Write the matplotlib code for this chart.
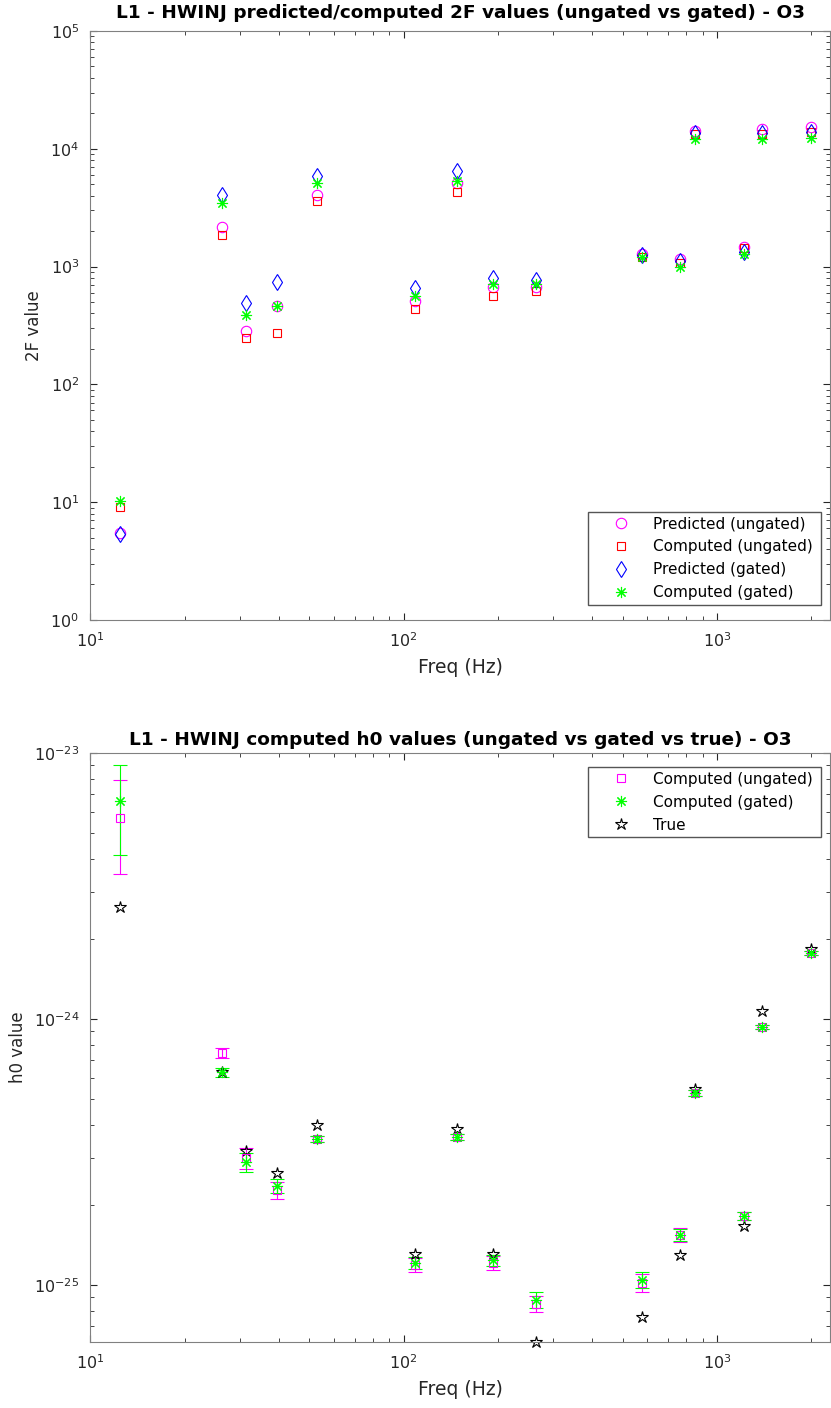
import numpy as np
import matplotlib
matplotlib.use('Agg')
import matplotlib.pyplot as plt
from matplotlib.ticker import NullFormatter

# frecuencias de las inyecciones (Hz)
freq = [12.4, 26.3, 31.4, 39.5, 52.8, 108.9, 148.0, 193.0, 265.6,
        575.2, 763.8, 849.1, 1220.5, 1396.0, 1991.0]

# 2F predicho / calculado
pred_ungated = [5.5, 2150, 285, 463, 4050, 510, 5130, 671, 675,
                1280, 1150, 14100, 1480, 14600, 15400]
comp_ungated = [9.1, 1855, 248, 273, 3600, 437, 4300, 563, 620,
                1200, 1075, 13300, 1450, 13300, 13900]
pred_gated = [5.4, 4050, 492, 740, 5900, 660, 6500, 800, 775,
              1260, 1110, 13600, 1340, 13500, 14000]
comp_gated = [10.2, 3470, 388, 463, 5130, 563, 5330, 715, 715,
              1200, 990, 12100, 1280, 12100, 12300]

# h0 calculado / verdadero
h0_ungated = [5.7e-24, 7.45e-25, 3.0e-25, 2.27e-25, 3.55e-25, 1.19e-25, 3.6e-25, 1.21e-25, 8.5e-26,
              1.02e-25, 1.54e-25, 5.27e-25, 1.82e-25, 9.33e-25, 1.77e-24]
h0_ungated_err = [2.2e-24, 3.0e-26, 2.7e-26, 1.6e-26, 0.9e-26, 0.7e-26, 0.9e-26, 0.7e-26, 0.6e-26,
                  0.8e-26, 0.9e-26, 1.4e-26, 0.6e-26, 1.6e-26, 3.0e-26]
h0_gated = [6.6e-24, 6.3e-25, 2.9e-25, 2.36e-25, 3.55e-25, 1.21e-25, 3.6e-25, 1.24e-25, 8.8e-26,
            1.045e-25, 1.54e-25, 5.27e-25, 1.82e-25, 9.33e-25, 1.77e-24]
h0_gated_err = [2.45e-24, 2.5e-26, 2.4e-26, 1.4e-26, 0.9e-26, 0.6e-26, 0.9e-26, 0.6e-26, 0.6e-26,
                0.7e-26, 0.8e-26, 1.4e-26, 0.6e-26, 1.6e-26, 3.0e-26]
h0_true = [2.64e-24, 6.3e-25, 3.19e-25, 2.64e-25, 4.0e-25, 1.31e-25, 3.85e-25, 1.31e-25, 6.1e-26,
           7.6e-26, 1.30e-25, 5.47e-25, 1.66e-25, 1.07e-24, 1.83e-24]

plt.rcParams['font.family'] = 'DejaVu Sans'
plt.rcParams['font.size'] = 11
plt.rcParams['mathtext.default'] = 'regular'

gris = '#262626'
asterisco = (8, 2, 0)
leg_kw = dict(mode='expand', borderaxespad=0, fancybox=False, edgecolor='#555555', framealpha=1,
              borderpad=0.3, handlelength=3.7, handletextpad=0.25, labelspacing=0.52, fontsize=11)

fig = plt.figure(figsize=(8.31, 14.08), dpi=100)
ax1 = fig.add_axes([0.1087, 0.5597, 0.8903, 0.4183])
ax2 = fig.add_axes([0.1087, 0.0469, 0.8903, 0.4183])

#grafico superior
ax1.plot(freq, pred_ungated, ls='none', marker='o', ms=7.5, mfc='none', mec=(1, 0, 1), mew=0.8,
         label='Predicted (ungated)')
ax1.plot(freq, comp_ungated, ls='none', marker='s', ms=5.5, mfc='none', mec=(1, 0, 0), mew=0.8,
         label='Computed (ungated)')
ax1.plot(freq, pred_gated, ls='none', marker='d', ms=8.5, mfc='none', mec=(0, 0, 1), mew=0.8,
         label='Predicted (gated)')
ax1.plot(freq, comp_gated, ls='none', marker=asterisco, ms=8, mfc='none', mec=(0, 1, 0), mew=0.8,
         label='Computed (gated)')
ax1.set_xscale('log')
ax1.set_yscale('log')
ax1.set_xlim(10, 2300)
ax1.set_ylim(1, 1e5)
ax1.set_xticks([10, 100, 1000])
ax1.set_yticks([1, 10, 100, 1e3, 1e4, 1e5])
ax1.set_xlabel('Freq (Hz)', fontsize=13.5, labelpad=6)
ax1.set_ylabel('2F value', fontsize=12, labelpad=5)
ax1.set_title('L1 - HWINJ predicted/computed 2F values (ungated vs gated) - O3',
              fontweight='bold', fontsize=13.3, pad=9)
ax1.legend(loc='lower left', bbox_to_anchor=(0.673, 0.0255, 0.315, 0.3), **leg_kw)

#grafico inferior
e1 = ax2.errorbar(freq, h0_ungated, yerr=h0_ungated_err, ls='none', marker='s', ms=5.5, mfc='none',
                  mec=(1, 0, 1), mew=0.8, ecolor=(1, 0, 1), elinewidth=0.8, capsize=5, capthick=0.8,
                  clip_on=False)
e2 = ax2.errorbar(freq, h0_gated, yerr=h0_gated_err, ls='none', marker=asterisco, ms=8, mfc='none',
                  mec=(0, 1, 0), mew=0.8, ecolor=(0, 1, 0), elinewidth=0.8, capsize=5, capthick=0.8,
                  clip_on=False)
t, = ax2.plot(freq, h0_true, ls='none', marker='*', ms=9, mfc='none', mec='black', mew=0.8,
              clip_on=False)
ax2.set_xscale('log')
ax2.set_yscale('log')
ax2.set_xlim(10, 2300)
ax2.set_ylim(6.1e-26, 1e-23)
ax2.set_xticks([10, 100, 1000])
ax2.set_yticks([1e-25, 1e-24, 1e-23])
ax2.set_xlabel('Freq (Hz)', fontsize=13.5, labelpad=6)
ax2.set_ylabel('h0 value', fontsize=12, labelpad=5)
ax2.set_title('L1 - HWINJ computed h0 values (ungated vs gated vs true) - O3',
              fontweight='bold', fontsize=13.3, pad=6)
ax2.legend([e1[0], e2[0], t], ['Computed (ungated)', 'Computed (gated)', 'True'],
           loc='upper left', bbox_to_anchor=(0.673, 0.5, 0.315, 0.476), **leg_kw)

for ax in (ax1, ax2):
    for s in ax.spines.values():
        s.set_color('#808080')
        s.set_linewidth(0.8)
    ax.tick_params(which='both', direction='in', top=True, right=True, colors=gris,
                   labelcolor=gris, labelsize=11.5)
    ax.tick_params(which='major', length=5, pad=8)
    ax.tick_params(which='minor', length=3)
    ax.xaxis.set_minor_formatter(NullFormatter())
    ax.yaxis.set_minor_formatter(NullFormatter())
    ax.xaxis.label.set_color(gris)
    ax.yaxis.label.set_color(gris)

plt.savefig('out.png', dpi=100)
